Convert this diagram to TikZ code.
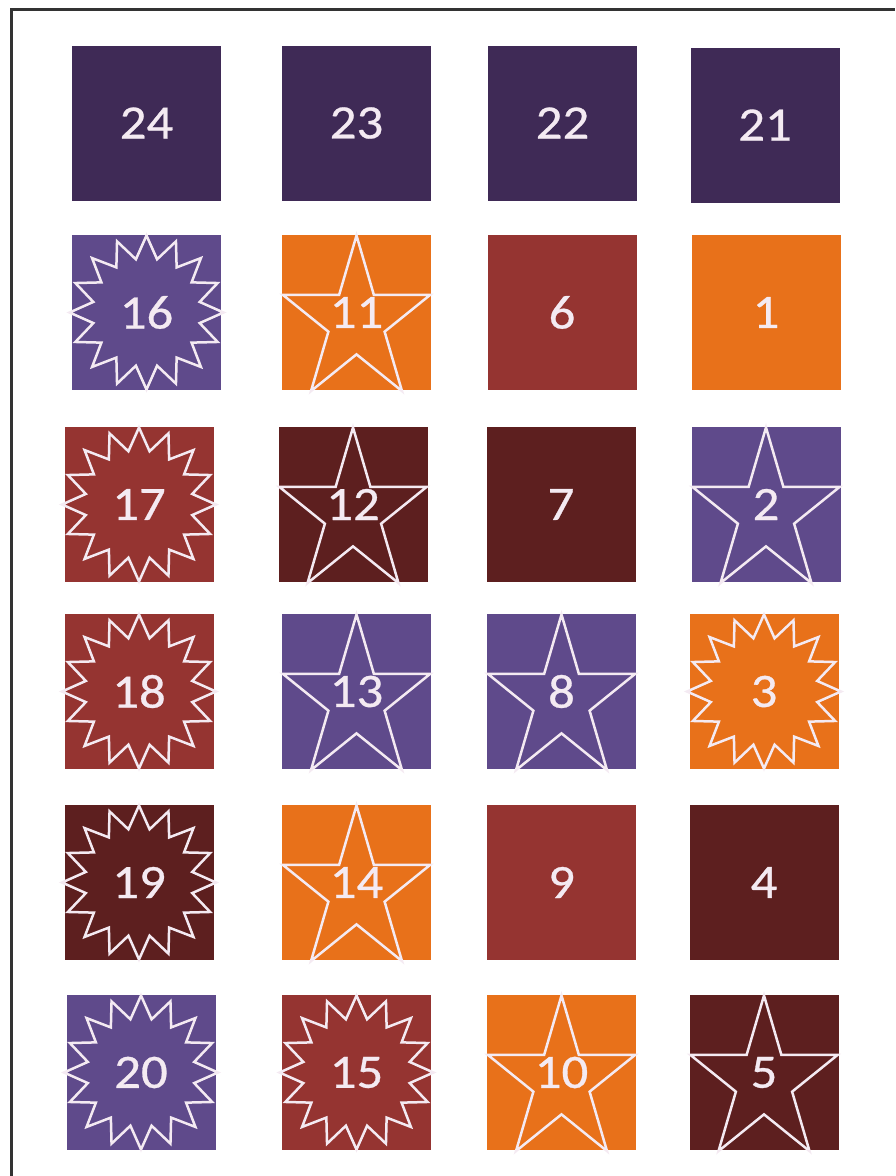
\documentclass[tikz,border=0pt]{standalone}
\usepackage{fontspec}
\setmainfont[FakeStretch=1.1,FakeBold=0.6]{Carlito}
\usetikzlibrary{shapes.geometric}
\definecolor{NightPlum}{HTML}{3F2A56}
\definecolor{SoftPlum}{HTML}{5F4A8B}
\definecolor{Pumpkin}{HTML}{E8711A}
\definecolor{Brick}{HTML}{953431}
\definecolor{Maroon}{HTML}{5D1F1F}
\definecolor{PaleInk}{HTML}{F4EAF2}
\definecolor{FrameGray}{HTML}{333333}

\begin{document}
\begin{tikzpicture}[x=1pt,y=-1pt,
    tile/.style={
      fill=#1,
      minimum width=149pt,
      minimum height=155pt,
      inner sep=0pt,
      text=PaleInk,
      font=\fontsize{48}{48}\selectfont
    },
    starmark/.style={
      star, star points=5, star point ratio=2.618,
      minimum size=172pt, inner sep=0pt,
      xscale=0.9, transform shape,
      draw=PaleInk, line width=2.5pt
    },
    burstmark/.style={
      star, star points=16, star point ratio=1.42,
      minimum size=154pt, inner sep=0pt,
      draw=PaleInk, line width=2.5pt
    }]
    \useasboundingbox (0,0) rectangle (895,1176);
    \draw[FrameGray, line width=3pt] (11,1176) -- (11,9) -- (895,9);

    % top row
    \node[tile=NightPlum] (t24) at (146.5,123) {24};
    \node[tile=NightPlum] (t23) at (356.5,123) {23};
    \node[tile=NightPlum] (t22) at (562.5,123) {22};
    \node[tile=NightPlum] (t21) at (765,125) {21};

    % second row
    \node[tile=SoftPlum] (t16) at (146.5,312.5) {16};
    \node[tile=Pumpkin] (t11) at (356.5,312.5) {11};
    \node[tile=Brick] (t6) at (562,312.5) {6};
    \node[tile=Pumpkin] (t1) at (766,312.5) {1};
    \node[burstmark] (b16) at (t16) {};
    \node[starmark] (s11) at ([yshift=-9pt]t11.center) {};

    % third row
    \node[tile=Brick] (t17) at (139,504.5) {17};
    \node[tile=Maroon] (t12) at (353,504.5) {12};
    \node[tile=Maroon] (t7) at (561,504.5) {7};
    \node[tile=SoftPlum] (t2) at (766,504.5) {2};
    \node[burstmark] (b17) at (t17) {};
    \node[starmark] (s12) at ([yshift=-9pt]t12.center) {};
    \node[starmark] (s2) at ([yshift=-9pt]t2.center) {};

    % fourth row
    \node[tile=Brick] (t18) at (139,691.5) {18};
    \node[tile=SoftPlum] (t13) at (356.5,691.5) {13};
    \node[tile=SoftPlum] (t8) at (561.5,691.5) {8};
    \node[tile=Pumpkin] (t3) at (764,691.5) {3};
    \node[burstmark] (b18) at (t18) {};
    \node[starmark] (s13) at ([yshift=-9pt]t13.center) {};
    \node[starmark] (s8) at ([yshift=-9pt]t8.center) {};
    \node[burstmark] (b3) at (t3) {};

    % fifth row
    \node[tile=Maroon] (t19) at (139,882.5) {19};
    \node[tile=Pumpkin] (t14) at (356.5,882.5) {14};
    \node[tile=Brick] (t9) at (561.5,882.5) {9};
    \node[tile=Maroon] (t4) at (764,882.5) {4};
    \node[burstmark] (b19) at (t19) {};
    \node[starmark] (s14) at ([yshift=-9pt]t14.center) {};

    % bottom row
    \node[tile=SoftPlum] (t20) at (141,1072.5) {20};
    \node[tile=Brick] (t15) at (356.5,1072.5) {15};
    \node[tile=Pumpkin] (t10) at (561.5,1072.5) {10};
    \node[tile=Maroon] (t5) at (764,1072.5) {5};
    \node[burstmark] (b20) at (t20) {};
    \node[burstmark] (b15) at (t15) {};
    \node[starmark] (s10) at ([yshift=-9pt]t10.center) {};
    \node[starmark] (s5) at ([yshift=-9pt]t5.center) {};
  \end{tikzpicture}
\end{document}
